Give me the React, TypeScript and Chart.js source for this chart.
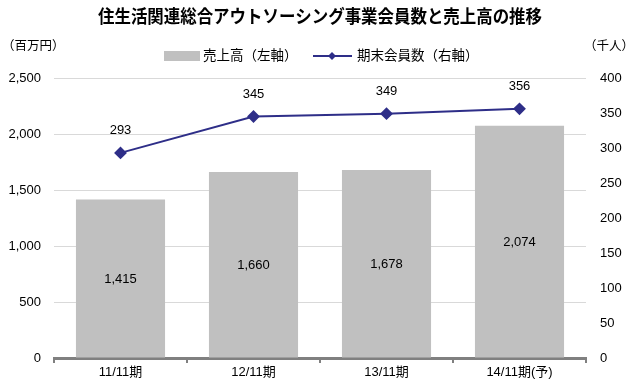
import React, { useEffect, useRef } from "react";
import { Chart, registerables } from "chart.js";
Chart.register(...registerables);

const categories = ["11/11期", "12/11期", "13/11期", "14/11期(予)"];
const salesValues = [1415, 1660, 1678, 2074];
const memberValues = [293, 345, 349, 356];
const leftTicks = [0, 500, 1000, 1500, 2000, 2500];
const rightTicks = [0, 50, 100, 150, 200, 250, 300, 350, 400];
const titleText = "住生活関連総合アウトソーシング事業会員数と売上高の推移";
const leftUnit = "（百万円）";
const rightUnit = "（千人）";
const salesLabel = "売上高（左軸）";
const memberLabel = "期末会員数（右軸）";

const FONT = '"Liberation Sans", "Noto Sans CJK JP", Arial, sans-serif';
const BAR_COLOR = "#c0c0c0";
const LINE_COLOR = "#2e2e88";

const fmt = (v: number) => v.toLocaleString("en-US");

const decorPlugin = {
  id: "decor",
  afterDraw(chart: any) {
    const ctx = chart.ctx;
    ctx.save();
    // title (slightly condensed)
    ctx.fillStyle = "#000";
    ctx.font = `bold 18px ${FONT}`;
    ctx.textAlign = "center";
    ctx.textBaseline = "middle";
    const tw = ctx.measureText(titleText).width;
    const sx = Math.min(1, 444 / tw);
    ctx.save();
    ctx.translate(320, 18);
    ctx.scale(sx, 1);
    ctx.fillText(titleText, 0, 0);
    ctx.restore();
    // units
    ctx.font = `12.5px ${FONT}`;
    ctx.textAlign = "left";
    ctx.fillText(leftUnit, 2, 47);
    ctx.textAlign = "right";
    ctx.fillText(rightUnit, 634, 47);
    // legend
    ctx.fillStyle = BAR_COLOR;
    ctx.fillRect(164, 51, 36, 10);
    ctx.fillStyle = "#000";
    ctx.textAlign = "left";
    ctx.font = `13.5px ${FONT}`;
    ctx.fillText(salesLabel, 203, 56);
    ctx.strokeStyle = LINE_COLOR;
    ctx.lineWidth = 2;
    ctx.beginPath();
    ctx.moveTo(313, 56);
    ctx.lineTo(352, 56);
    ctx.stroke();
    ctx.fillStyle = LINE_COLOR;
    ctx.beginPath();
    ctx.moveTo(332, 52);
    ctx.lineTo(336, 56);
    ctx.lineTo(332, 60);
    ctx.lineTo(328, 56);
    ctx.closePath();
    ctx.fill();
    ctx.fillStyle = "#000";
    ctx.fillText(memberLabel, 357, 56);

    // data labels
    ctx.font = `13px ${FONT}`;
    ctx.textAlign = "center";
    const barMeta = chart.getDatasetMeta(0);
    barMeta.data.forEach((el: any, i: number) => {
      const y = (el.y + el.base) / 2;
      ctx.fillText(fmt(salesValues[i]), el.x, y + 1);
    });
    const lineMeta = chart.getDatasetMeta(1);
    lineMeta.data.forEach((el: any, i: number) => {
      ctx.fillText(fmt(memberValues[i]), el.x, el.y - 22);
    });
    ctx.restore();
  },
};

export default function App() {
  const ref = useRef<HTMLCanvasElement>(null);
  useEffect(() => {
    document.body.style.margin = "0";
    const chart = new Chart(ref.current!, {
      type: "bar",
      data: {
        labels: categories,
        datasets: [
          {
            type: "bar",
            label: salesLabel,
            data: salesValues,
            backgroundColor: BAR_COLOR,
            barPercentage: 0.67,
            categoryPercentage: 1,
            yAxisID: "y",
            order: 2,
          },
          {
            type: "line",
            label: memberLabel,
            data: memberValues,
            borderColor: LINE_COLOR,
            backgroundColor: LINE_COLOR,
            borderWidth: 2,
            pointStyle: "rectRot",
            pointRadius: 5,
            yAxisID: "y1",
            order: 1,
          },
        ],
      } as any,
      options: {
        animation: false,
        responsive: false,
        layout: { padding: { top: 78, bottom: 0, left: 0, right: 0 } },
        plugins: { legend: { display: false }, tooltip: { enabled: false } },
        scales: {
          x: {
            offset: true,
            grid: {
              offset: true,
              drawOnChartArea: false,
              drawTicks: true,
              tickLength: 5,
              color: "#808080",
              lineWidth: 2,
            },
            border: { display: true, color: "#808080", width: 3 },
            ticks: { color: "#000", font: { family: FONT, size: 13 }, padding: 2 },
            afterFit: (s: any) => {
              s.height = 32;
            },
          },
          y: {
            position: "left",
            min: 0,
            max: 2500,
            afterBuildTicks: (s: any) => {
              s.ticks = leftTicks.map((v) => ({ value: v }));
            },
            grid: { color: "#d9d9d9", drawTicks: false },
            border: { display: false },
            ticks: {
              color: "#000",
              font: { family: FONT, size: 13 },
              padding: 13,
              callback: (v: any) => fmt(Number(v)),
            },
            afterFit: (s: any) => {
              s.width = 54;
            },
          },
          y1: {
            position: "right",
            min: 0,
            max: 400,
            afterBuildTicks: (s: any) => {
              s.ticks = rightTicks.map((v) => ({ value: v }));
            },
            grid: { drawOnChartArea: false, drawTicks: false },
            border: { display: false },
            ticks: {
              color: "#000",
              font: { family: FONT, size: 13 },
              padding: 14,
            },
            afterFit: (s: any) => {
              s.width = 48;
            },
          },
        },
      },
      plugins: [decorPlugin],
    });
    return () => chart.destroy();
  }, []);
  return (
    <div style={{ position: "fixed", left: 0, top: 0, width: 634, height: 390 }}>
      <canvas ref={ref} width={634} height={390} style={{ display: "block" }} />
    </div>
  );
}
